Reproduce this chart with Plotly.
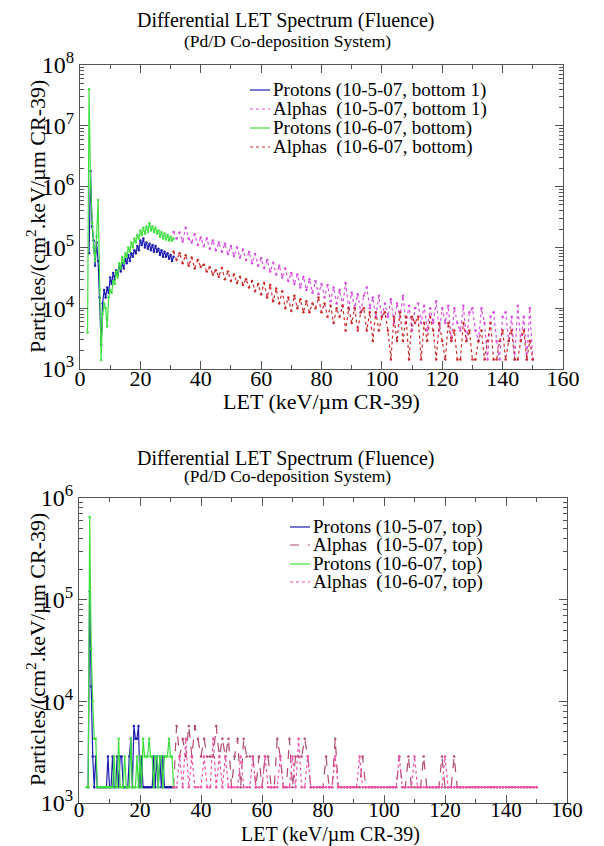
import numpy as np
import plotly.graph_objects as go

SERIF = "Liberation Serif, DejaVu Serif, serif"

# ---------------- data: top chart (bottom side of detectors) ----------------
let_p = np.arange(3.0, 31.01, 0.5)          # proton LET bins (keV/um)
let_p_g = np.arange(2.5, 31.01, 0.5)        # green proton LET bins
let_a = np.arange(31, 151, 1)               # alpha LET bins

prot_105_bot = [8e4, 1.8e6, 2.2e5, 1.3e5, 5e4, 1.2e5, 6e4, 1.5e4, 2.5e3, 1.2e4,
                2e4, 1.5e4, 2.2e4, 1.8e4, 3.2e4, 2.5e4, 3.8e4, 3e4, 4.2e4, 3.5e4,
                5e4, 4e4, 5.5e4, 4.5e4, 6.5e4, 5.5e4, 7.5e4, 6e4, 8e4, 7e4,
                9e4, 8e4, 1.05e5, 9e4, 1.3e5, 1.1e5, 1.4e5, 1e5, 1.2e5, 9.5e4,
                1.15e5, 9e4, 1.1e5, 8.5e4, 1.05e5, 8.5e4, 9.5e4, 7.5e4, 9e4, 7e4,
                8.5e4, 7e4, 8e4, 6.5e4, 7.5e4, 6e4, 7e4]

prot_106_bot = [4e3, 4e7, 1e6, 2.5e5, 1e5, 6e4, 1.5e5, 6e5, 2e4, 1.4e3,
                8e3, 1.2e4, 1e4, 5e3, 1.5e4, 2e4, 1.8e4, 2.8e4, 2.5e4, 4e4,
                3.2e4, 5.5e4, 4.5e4, 7e4, 5.5e4, 8e4, 7e4, 1e5, 8.5e4, 1.2e5,
                1e5, 1.4e5, 1.2e5, 1.6e5, 1.4e5, 1.9e5, 1.6e5, 2.1e5, 1.7e5, 2.2e5,
                1.8e5, 2.5e5, 1.9e5, 2.2e5, 1.8e5, 2.1e5, 1.7e5, 1.9e5, 1.5e5, 1.8e5,
                1.4e5, 1.7e5, 1.35e5, 1.6e5, 1.3e5, 1.5e5, 1.3e5, 1.4e5]

# alpha values in units of 1e3 particles/(cm^2.keV/um)
alpha_105_bot_k = [180, 140, 175, 125, 210, 140, 120, 165, 110, 145,
                   105, 140, 95, 130, 90, 120, 85, 115, 78, 105,
                   72, 100, 68, 92, 62, 84, 55, 78, 50, 66,
                   46, 62, 40, 56, 36, 50, 32, 45, 28, 38,
                   25, 36, 22, 33, 20, 30, 18, 28, 17, 25,
                   15, 24, 13, 22, 12, 20, 11, 26, 10, 18,
                   10, 17, 8.6, 16, 22, 10, 15, 7.2, 16, 7.2,
                   12, 7.2, 14, 5.7, 12, 7.2, 16, 5.7, 11, 4.3,
                   10, 12, 5.7, 11, 4.3, 10, 5.7, 13, 4.3, 10,
                   5.7, 11, 2.9, 10, 5.7, 4.3, 11, 2.9, 8.6, 10,
                   4.3, 2.9, 10, 5.7, 1.43, 7.2, 8.6, 2.9, 1.43, 7.2,
                   8.6, 2.9, 7.2, 1.43, 11, 2.9, 7.2, 1.43, 10, 1.43]

alpha_106_bot_k = [85, 62, 80, 55, 74, 50, 68, 45, 62, 48,
                   52, 40, 47, 36, 42, 33, 46, 30, 40, 28,
                   36, 26, 33, 24, 30, 22, 28, 19, 25, 17,
                   26, 15, 24, 13, 21, 12, 19, 10, 15, 9,
                   16, 10, 14, 8.6, 13, 8.6, 12, 10, 15, 8.6,
                   12, 7.2, 11, 5.7, 10, 7.2, 11, 4.3, 10, 5.7,
                   10, 4.3, 8.6, 10, 4.3, 8.6, 2.9, 8.6, 4.3, 7.2,
                   8.6, 4.3, 1.43, 7.2, 2.9, 8.6, 2.9, 7.2, 1.43, 7.2,
                   5.7, 7.2, 1.43, 5.7, 2.9, 7.2, 4.3, 1.43, 5.7, 2.9,
                   1.43, 5.7, 2.9, 4.3, 1.43, 1.43, 5.7, 2.9, 4.3, 1.43,
                   1.43, 2.9, 4.3, 1.43, 2.9, 5.7, 1.43, 1.43, 2.9, 4.3,
                   1.43, 2.9, 4.3, 1.43, 1.43, 2.9, 4.3, 1.43, 2.9, 1.43]

# ---------------- data: bottom chart (top side of detectors) ----------------
prot_105_top = [1430, 1.2e5, 1.4e4, 2860, 1430, 2860, 1430, 1430, 1430, 1430,
                1430, 1430, 1430, 2860, 1430, 1430, 2860, 1430, 1430, 2860,
                1430, 2860, 2860, 1430, 1430, 1430, 1430, 2860, 4290, 1430,
                5720, 4290, 4290, 5720, 1430, 2860, 1430, 1430, 1430, 1430,
                1430, 1430, 1430, 2860, 1430, 2860, 1430, 2860, 1430, 2860,
                1430, 1430, 1430, 1430, 1430, 1430, 1430]

prot_106_top = [1430, 1430, 6.5e5, 3.3e4, 1e4, 4290, 4290, 1430, 1430, 1430,
                1430, 1430, 1430, 1430, 1430, 1430, 1430, 1430, 2860, 1430,
                1430, 4290, 1430, 1430, 1430, 2860, 1430, 1430, 1430, 4290,
                1430, 1430, 1430, 2860, 1430, 2860, 1430, 4290, 2860, 2860,
                2860, 4290, 2860, 2860, 1430, 2860, 2860, 1430, 2860, 2860,
                1430, 2860, 2860, 2860, 4290, 2860, 2860, 1430]

alpha_105_top = [1430, 5720, 2860, 4290, 2860, 5720, 2860, 5720, 4290, 2860,
                 4290, 2860, 2860, 2860, 5720, 2860, 4290, 2860, 4290, 1430,
                 2860, 4290, 1430, 4290, 2860, 2860, 2860, 1430, 2860, 1430,
                 2860, 2860, 1430, 1430, 4290, 2860, 1430, 1430, 4290, 1430,
                 2860, 2860, 2860, 4290, 2860, 1430, 1430, 1430, 1430, 1430,
                 2860, 1430, 1430, 4290, 1430, 1430, 1430, 1430, 1430, 1430,
                 1430, 1430, 2860, 1430, 1430, 1430, 1430, 1430, 1430, 1430,
                 1430, 1430, 1430, 1430, 2860, 1430, 1430, 2860, 1430, 1430,
                 1430, 1430, 2860, 1430, 1430, 1430, 1430, 1430, 2860, 1430,
                 1430, 1430, 2860, 1430, 1430, 1430, 1430, 1430, 1430, 1430,
                 1430, 1430, 1430, 1430, 1430, 1430, 1430, 1430, 1430, 1430,
                 1430, 1430, 1430, 1430, 1430, 1430, 1430, 1430, 1430, 1430]

alpha_106_top = [1430, 1430, 2860, 1430, 4290, 1430, 2860, 1430, 1430, 1430,
                 2860, 1430, 1430, 4290, 1430, 2860, 1430, 2860, 1430, 1430,
                 1430, 1430, 2860, 1430, 1430, 1430, 2860, 1430, 1430, 1430,
                 2860, 1430, 1430, 1430, 1430, 2860, 1430, 1430, 1430, 2860,
                 1430, 4290, 1430, 1430, 2860, 1430, 1430, 1430, 1430, 1430,
                 1430, 1430, 1430, 2860, 1430, 1430, 1430, 1430, 1430, 1430,
                 1430, 2860, 1430, 1430, 1430, 1430, 1430, 1430, 1430, 1430,
                 1430, 1430, 1430, 1430, 2860, 1430, 1430, 1430, 1430, 2860,
                 1430, 1430, 1430, 1430, 1430, 1430, 1430, 1430, 1430, 2860,
                 1430, 1430, 1430, 1430, 1430, 1430, 1430, 1430, 1430, 1430,
                 1430, 1430, 1430, 1430, 1430, 1430, 1430, 1430, 1430, 1430,
                 1430, 1430, 1430, 1430, 1430, 1430, 1430, 1430, 1430, 1430]

x_ticks = [0, 20, 40, 60, 80, 100, 120, 140, 160]
top_decades = [3, 4, 5, 6, 7, 8]
bot_decades = [3, 4, 5, 6]

top_names = ["Protons (10-5-07, bottom 1)", "Alphas&nbsp; (10-5-07, bottom 1)",
             "Protons (10-6-07, bottom)", "Alphas&nbsp; (10-6-07, bottom)"]
bot_names = ["Protons (10-5-07, top)", "Alphas&nbsp; (10-5-07, top)",
             "Protons (10-6-07, top)", "Alphas&nbsp; (10-6-07, top)"]

C_BLUE = "#1c1cb0"
C_GREEN = "#3ee03e"
C_MAG = "#d84ee0"
C_RED = "#cc2a2a"
C_MAROON = "#b04a70"
C_PINK = "#f050a8"

W, H = 604, 846
fig = go.Figure()


def tr(x, y, name, color, dash, xa, ya):
    fig.add_trace(go.Scatter(
        x=list(x), y=list(y), name=name, mode="lines+markers",
        line=dict(color=color, width=1.2, dash=dash),
        marker=dict(color=color, size=2.5),
        xaxis=xa, yaxis=ya, showlegend=False))


k = 1e3
top_specs = [(let_p, prot_105_bot, C_BLUE, "solid"),
             (let_a, [v * k for v in alpha_105_bot_k], C_MAG, "dot"),
             (let_p_g, prot_106_bot, C_GREEN, "solid"),
             (let_a, [v * k for v in alpha_106_bot_k], C_RED, "dot")]
bot_specs = [(let_p, prot_105_top, C_BLUE, "solid"),
             (let_a, alpha_105_top, C_MAROON, "dash"),
             (let_p_g, prot_106_top, C_GREEN, "solid"),
             (let_a, alpha_106_top, C_PINK, "dot")]

for (x, y, c, d), n in zip(top_specs, top_names):
    tr(x, y, n, c, d, "x", "y")
for (x, y, c, d), n in zip(bot_specs, bot_names):
    tr(x, y, n, c, d, "x2", "y2")


def minor_vals(decs):
    out = []
    for d in decs[:-1]:
        for m in range(2, 10):
            out.append(m * 10 ** d)
    return out


axis_common = dict(showline=True, linecolor="#555", linewidth=1, mirror="ticks",
                   ticks="inside", tickcolor="#555", ticklen=8, showgrid=False,
                   zeroline=False, automargin=False,
                   tickfont=dict(family=SERIF, size=24, color="black"))

xa = dict(axis_common, range=[0, 160], tickvals=x_ticks, ticklabelstandoff=-10,
          tickfont=dict(family=SERIF, size=22, color="black"),
          minor=dict(dtick=10, ticks="inside", ticklen=4, tickcolor="#555", showgrid=False))

xa2 = dict(xa, ticklabelstandoff=-12, tickfont=dict(family=SERIF, size=21, color="black"))

fig.update_layout(
    width=W, height=H, margin=dict(l=0, r=0, t=0, b=0, autoexpand=False),
    paper_bgcolor="white", plot_bgcolor="white", showlegend=False,
    xaxis=dict(xa, domain=[80 / W, 563 / W], anchor="y"),
    yaxis=dict(axis_common, type="log", range=[3, 8], domain=[1 - 369 / H, 1 - 65 / H], anchor="x",
               tickvals=[10 ** d for d in top_decades],
               ticktext=["10<sup>%d</sup>" % d for d in top_decades],
               minor=dict(tickvals=minor_vals(top_decades), ticks="inside", ticklen=4,
                          tickcolor="#555", showgrid=False)),
    xaxis2=dict(xa2, domain=[79 / W, 567 / W], anchor="y2"),
    yaxis2=dict(axis_common, type="log", range=[3, 6], domain=[1 - 803 / H, 1 - 498 / H], anchor="x2",
                tickvals=[10 ** d for d in bot_decades],
                ticktext=["10<sup>%d</sup>" % d for d in bot_decades],
                minor=dict(tickvals=minor_vals(bot_decades), ticks="inside", ticklen=4,
                           tickcolor="#555", showgrid=False)),
)

ann = []
shapes = []


def txt(x, y, s, size, angle=0, anchor="center"):
    ann.append(dict(x=x / W, y=1 - y / H, xref="paper", yref="paper", text=s,
                    showarrow=False, textangle=angle, xanchor=anchor, yanchor="middle",
                    font=dict(family=SERIF, size=size, color="black")))


txt(286, 21, "Differential LET Spectrum (Fluence)", 20)
txt(287, 41, "(Pd/D Co-deposition System)", 17.5)
txt(322, 401, "LET (keV/µm CR-39)", 22)
txt(36, 217, "Particles/(cm<sup>2</sup>.keV/µm CR-39)", 22, -90)

txt(286, 458, "Differential LET Spectrum (Fluence)", 20)
txt(287, 476, "(Pd/D Co-deposition System)", 17.5)
txt(330, 834, "LET (keV/µm CR-39)", 20)
txt(36, 650, "Particles/(cm<sup>2</sup>.keV/µm CR-39)", 22, -90)


# manual legends (text + line sample)
def legend(names, specs, x0, x1, xt, rows):
    for n, (_, _, c, d), yy in zip(names, specs, rows):
        shapes.append(dict(type="line", xref="paper", yref="paper",
                           x0=x0 / W, x1=x1 / W, y0=1 - yy / H, y1=1 - yy / H,
                           line=dict(color=c, width=1.2, dash=d)))
        txt(xt, yy, n, 19, anchor="left")


legend(top_names, top_specs, 250, 270, 271, [90, 109, 128, 147])
legend(bot_names, bot_specs, 290, 310, 311, [527, 545, 564, 582])

fig.update_layout(annotations=ann, shapes=shapes)
fig.write_html("out.html", config={"displayModeBar": False},
               post_script="document.body.style.margin='0px';")
